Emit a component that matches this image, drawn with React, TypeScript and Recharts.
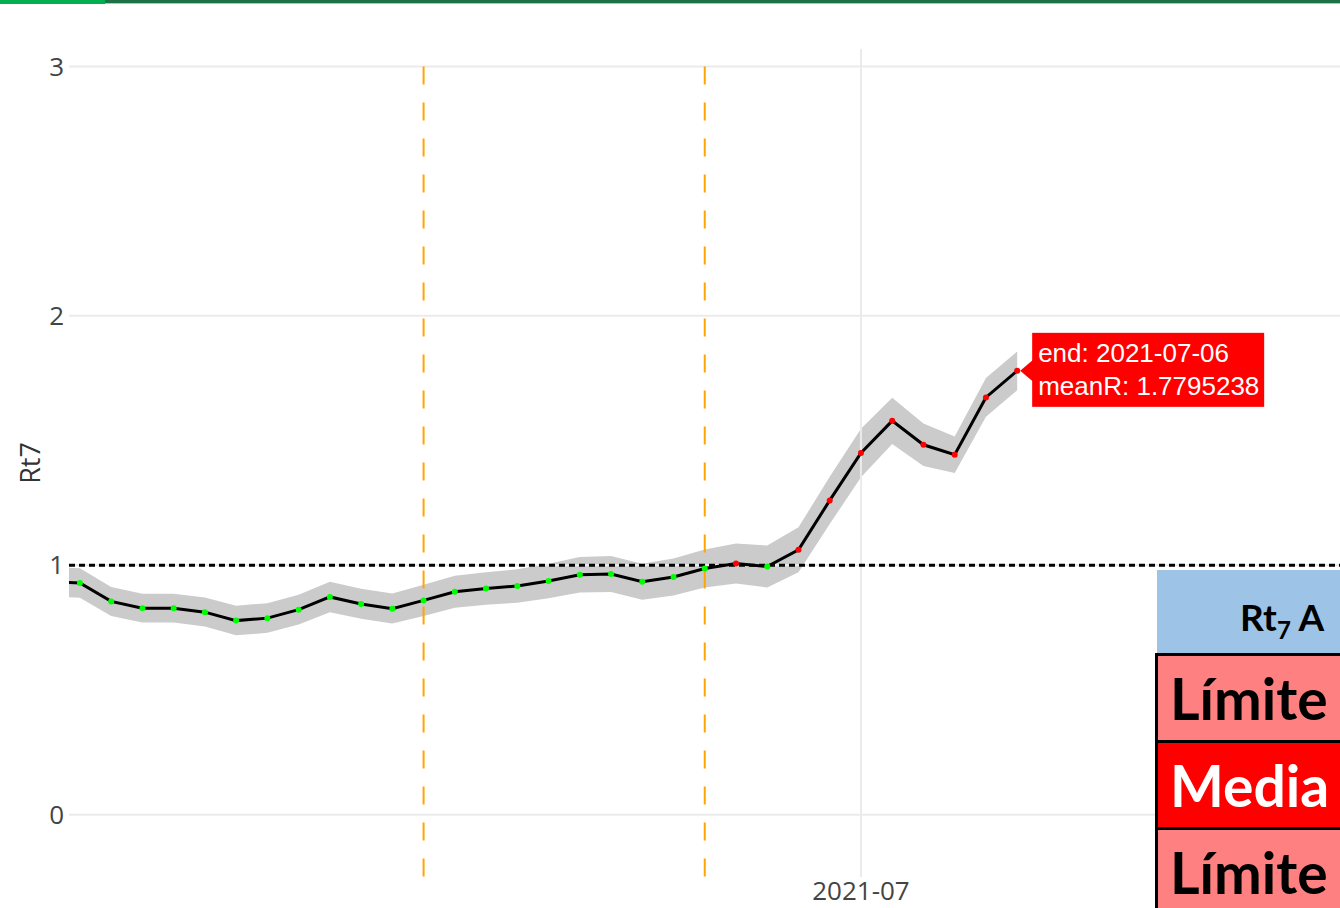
import {
  ComposedChart,
  Area,
  Line,
  XAxis,
  YAxis,
  ReferenceLine,
} from 'recharts';

// Rt7 daily estimates (first point sits just left of the visible window)
const dates = [
  '2021-06-05', '2021-06-06', '2021-06-07', '2021-06-08', '2021-06-09', '2021-06-10',
  '2021-06-11', '2021-06-12', '2021-06-13', '2021-06-14', '2021-06-15', '2021-06-16',
  '2021-06-17', '2021-06-18', '2021-06-19', '2021-06-20', '2021-06-21', '2021-06-22',
  '2021-06-23', '2021-06-24', '2021-06-25', '2021-06-26', '2021-06-27', '2021-06-28',
  '2021-06-29', '2021-06-30', '2021-07-01', '2021-07-02', '2021-07-03', '2021-07-04',
  '2021-07-05', '2021-07-06',
];
const meanR = [
  0.934, 0.929, 0.855, 0.828, 0.828, 0.812,
  0.778, 0.788, 0.822, 0.873, 0.845, 0.826,
  0.859, 0.894, 0.907, 0.917, 0.937, 0.962,
  0.965, 0.934, 0.953, 0.987, 1.007, 0.995,
  1.062, 1.26, 1.45, 1.579, 1.483, 1.443,
  1.673, 1.7795238,
];
const lowerR = [
  0.875, 0.87, 0.797, 0.77, 0.77, 0.754,
  0.719, 0.729, 0.762, 0.812, 0.785, 0.766,
  0.797, 0.83, 0.842, 0.85, 0.868, 0.891,
  0.893, 0.862, 0.879, 0.911, 0.927, 0.911,
  0.972, 1.165, 1.353, 1.486, 1.398, 1.37,
  1.595, 1.702,
];
const upperR = [
  0.993, 0.988, 0.913, 0.886, 0.886, 0.871,
  0.838, 0.848, 0.882, 0.934, 0.906, 0.887,
  0.922, 0.958, 0.972, 0.984, 1.006, 1.033,
  1.037, 1.006, 1.027, 1.063, 1.087, 1.079,
  1.152, 1.355, 1.547, 1.672, 1.568, 1.516,
  1.751, 1.857,
];
const markerDates = ['2021-06-17', '2021-06-26'];
const xTickDates = ['2021-07-01'];
const yTicks = [0, 1, 2, 3];
const threshold = 1;

const dayNum = (s: string) => Date.parse(s + 'T00:00:00Z') / 86400000;
const dayLabel = (d: number) => new Date(d * 86400000).toISOString().slice(0, 7);

const data = dates.map((d, i) => ({
  date: d,
  t: dayNum(d),
  mean: meanR[i],
  band: [lowerR[i], upperR[i]],
}));

const xDomain = [dayNum('2021-06-05') + 0.65, dayNum('2021-07-21') + 0.455];
const yDomain = [-0.25, 3.07];
const tickStyle = { fill: '#444', fontSize: 26, fontFamily: 'Open Sans' };
const lastIdx = data.length - 1;

function PointDot(p: any) {
  const { cx, cy, index, payload } = p;
  if (cx == null || cy == null) return <g key={'d' + index} />;
  const color = payload.mean >= threshold ? '#ff0000' : '#00ff00';
  if (index !== lastIdx) {
    return <circle key={'d' + index} cx={cx} cy={cy} r={3} fill={color} />;
  }
  return (
    <g key={'d' + index}>
      <circle cx={cx} cy={cy} r={3} fill={color} />
      <polygon
        points={`${cx + 3},${cy} ${cx + 16},${cy - 11} ${cx + 16},${cy + 11}`}
        fill="#ff0000"
      />
      <rect x={cx + 15} y={cy - 38} width={232} height={74} fill="#ff0000" />
      <text x={cx + 21} y={cy - 9} fill="#fff" fontSize={26} fontFamily="Liberation Sans, Arial">
        {`end: ${payload.date}`}
      </text>
      <text x={cx + 21} y={cy + 24} fill="#fff" fontSize={26} fontFamily="Liberation Sans, Arial">
        {`meanR: ${payload.mean}`}
      </text>
    </g>
  );
}

const cellFont = { fontFamily: 'Lato', fontWeight: 700, whiteSpace: 'nowrap' as const };

export default function App() {
  return (
    <div style={{ position: 'absolute', left: 0, top: 0, width: 1340, height: 908, overflow: 'hidden', background: '#fff' }}>
      <div style={{ position: 'absolute', left: 0, top: 0, width: 105, height: 4, background: '#00b050' }} />
      <div style={{ position: 'absolute', left: 105, top: 0, width: 1235, height: 3, background: '#1e7145' }} />
      <div style={{ position: 'absolute', left: 105, top: 3, width: 1235, height: 1, background: '#9fd0ad' }} />

      <ComposedChart width={1500} height={908} data={data} margin={{ top: 49, right: 0, bottom: 0, left: 0 }}>
        <XAxis
          dataKey="t"
          type="number"
          domain={xDomain}
          allowDataOverflow
          ticks={xTickDates.map(dayNum)}
          tickFormatter={dayLabel}
          axisLine={false}
          tickLine={false}
          tickSize={0}
          tickMargin={5}
          height={31}
          tick={tickStyle}
        />
        <YAxis
          type="number"
          domain={yDomain}
          allowDataOverflow
          ticks={yTicks}
          axisLine={false}
          tickLine={false}
          tickSize={0}
          tickMargin={5}
          width={69}
          tick={tickStyle}
          label={{
            content: (props: any) => {
              const vb = props.viewBox || { x: 0, y: 49, height: 828 };
              return (
                <text
                  transform={`translate(${vb.x + 29},${vb.y + vb.height / 2}) rotate(-90)`}
                  textAnchor="middle"
                  dominantBaseline="central"
                  fill="#333"
                  fontSize={27}
                  fontFamily="Open Sans"
                >
                  Rt7
                </text>
              );
            },
          }}
        />
        {/* grid lines only at the tick values */}
        {yTicks.map((v) => (
          <ReferenceLine key={'gy' + v} y={v} stroke="#ebebeb" strokeWidth={2} />
        ))}
        {xTickDates.map((d) => (
          <ReferenceLine key={'gx' + d} x={dayNum(d)} stroke="#ebebeb" strokeWidth={2} />
        ))}
        <Area
          dataKey="band"
          type="linear"
          stroke="none"
          fill="#cbcbcb"
          fillOpacity={1}
          isAnimationActive={false}
        />
        {markerDates.map((d) => (
          <ReferenceLine
            key={d}
            segment={[{ x: dayNum(d), y: 3 }, { x: dayNum(d), y: -0.25 }]}
            stroke="#ffa500"
            strokeWidth={2}
            strokeDasharray="18 18"
          />
        ))}
        <ReferenceLine y={threshold} stroke="#000" strokeWidth={3} strokeDasharray="6 4" />
        <Line
          dataKey="mean"
          type="linear"
          stroke="#000"
          strokeWidth={3}
          dot={PointDot}
          activeDot={false}
          isAnimationActive={false}
        />
      </ComposedChart>

      <div style={{ position: 'absolute', left: 1157, top: 570, width: 300, height: 83, background: '#9dc3e6' }}>
        <div style={{ ...cellFont, position: 'absolute', left: 83, top: 24, fontSize: 37, color: '#000' }}>
          Rt<sub style={{ fontSize: 24, verticalAlign: '-0.35em' }}>7</sub> A
        </div>
      </div>
      {[
        { text: 'Límite', bg: '#ff8080', color: '#000' },
        { text: 'Media', bg: '#ff0000', color: '#fff' },
        { text: 'Límite', bg: '#ff8080', color: '#000' },
      ].map((r, i) => (
        <div
          key={i}
          style={{
            position: 'absolute',
            left: 1155,
            top: 653 + i * 87,
            width: 300,
            height: 84,
            background: r.bg,
            border: '3px solid #000',
            borderBottom: i === 2 ? '3px solid #000' : 'none',
            overflow: 'hidden',
          }}
        >
          <div style={{ ...cellFont, position: 'absolute', left: 12, top: 8, fontSize: 57, color: r.color }}>
            {r.text}
          </div>
        </div>
      ))}
    </div>
  );
}
